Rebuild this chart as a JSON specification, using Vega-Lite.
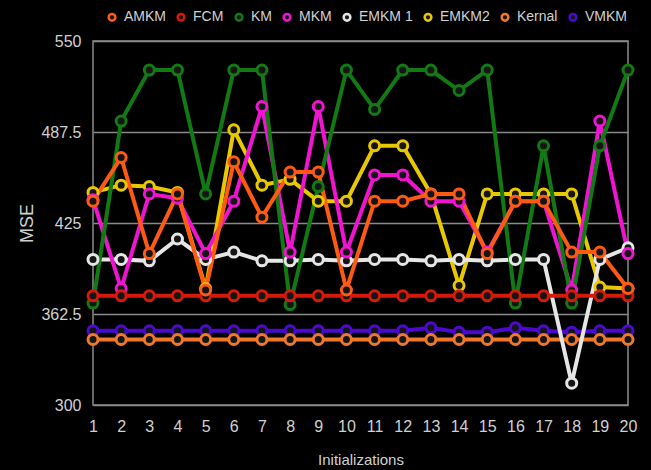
{
  "$schema": "https://vega.github.io/schema/vega-lite/v6.json",
  "width": 535,
  "height": 364,
  "autosize": {"type": "none"},
  "padding": {"left": 93, "top": 41, "right": 23, "bottom": 65},
  "background": "#000000",
  "config": {
    "view": {"stroke": "#8a8a8a", "strokeWidth": 1.5, "fill": "#000000"},
    "font": "Liberation Sans"
  },
  "data": {
    "values": [
      {"x": 1, "AMKM": 440, "FCM": 375, "KM": 370, "MKM": 441, "EMKM 1": 400, "EMKM2": 446, "Kernal": 345, "VMKM": 351},
      {"x": 2, "AMKM": 470, "FCM": 375, "KM": 495, "MKM": 380, "EMKM 1": 400, "EMKM2": 451, "Kernal": 345, "VMKM": 351},
      {"x": 3, "AMKM": 404, "FCM": 375, "KM": 530, "MKM": 445, "EMKM 1": 399, "EMKM2": 450, "Kernal": 345, "VMKM": 351},
      {"x": 4, "AMKM": 445, "FCM": 375, "KM": 530, "MKM": 442, "EMKM 1": 414, "EMKM2": 446, "Kernal": 345, "VMKM": 351},
      {"x": 5, "AMKM": 379, "FCM": 375, "KM": 445, "MKM": 404, "EMKM 1": 400, "EMKM2": 380, "Kernal": 345, "VMKM": 351},
      {"x": 6, "AMKM": 467, "FCM": 375, "KM": 530, "MKM": 440, "EMKM 1": 405, "EMKM2": 489, "Kernal": 345, "VMKM": 351},
      {"x": 7, "AMKM": 429, "FCM": 375, "KM": 530, "MKM": 505, "EMKM 1": 399, "EMKM2": 451, "Kernal": 345, "VMKM": 351},
      {"x": 8, "AMKM": 460, "FCM": 375, "KM": 369, "MKM": 405, "EMKM 1": 399, "EMKM2": 455, "Kernal": 345, "VMKM": 351},
      {"x": 9, "AMKM": 460, "FCM": 375, "KM": 450, "MKM": 505, "EMKM 1": 400, "EMKM2": 440, "Kernal": 345, "VMKM": 351},
      {"x": 10, "AMKM": 379, "FCM": 375, "KM": 530, "MKM": 405, "EMKM 1": 399, "EMKM2": 440, "Kernal": 345, "VMKM": 351},
      {"x": 11, "AMKM": 440, "FCM": 375, "KM": 503, "MKM": 458, "EMKM 1": 400, "EMKM2": 478, "Kernal": 345, "VMKM": 351},
      {"x": 12, "AMKM": 440, "FCM": 375, "KM": 530, "MKM": 458, "EMKM 1": 400, "EMKM2": 478, "Kernal": 345, "VMKM": 351},
      {"x": 13, "AMKM": 445, "FCM": 375, "KM": 530, "MKM": 440, "EMKM 1": 399, "EMKM2": 445, "Kernal": 345, "VMKM": 353},
      {"x": 14, "AMKM": 445, "FCM": 375, "KM": 516, "MKM": 440, "EMKM 1": 400, "EMKM2": 382, "Kernal": 345, "VMKM": 350},
      {"x": 15, "AMKM": 404, "FCM": 375, "KM": 530, "MKM": 405, "EMKM 1": 399, "EMKM2": 445, "Kernal": 345, "VMKM": 350},
      {"x": 16, "AMKM": 440, "FCM": 375, "KM": 370, "MKM": 440, "EMKM 1": 400, "EMKM2": 445, "Kernal": 345, "VMKM": 353},
      {"x": 17, "AMKM": 440, "FCM": 375, "KM": 478, "MKM": 440, "EMKM 1": 400, "EMKM2": 445, "Kernal": 345, "VMKM": 351},
      {"x": 18, "AMKM": 405, "FCM": 375, "KM": 370, "MKM": 379, "EMKM 1": 315, "EMKM2": 445, "Kernal": 345, "VMKM": 350},
      {"x": 19, "AMKM": 405, "FCM": 375, "KM": 478, "MKM": 495, "EMKM 1": 400, "EMKM2": 381, "Kernal": 345, "VMKM": 351},
      {"x": 20, "AMKM": 380, "FCM": 375, "KM": 530, "MKM": 404, "EMKM 1": 408, "EMKM2": 380, "Kernal": 345, "VMKM": 351}
    ]
  },
  "transform": [
    {"fold": ["VMKM", "Kernal", "EMKM2", "EMKM 1", "MKM", "KM", "FCM", "AMKM"], "as": ["series", "mse"]}
  ],
  "encoding": {
    "x": {
      "field": "x",
      "type": "quantitative",
      "scale": {"domain": [1, 20], "nice": false, "zero": false},
      "axis": {
        "values": [1, 2, 3, 4, 5, 6, 7, 8, 9, 10, 11, 12, 13, 14, 15, 16, 17, 18, 19, 20],
        "format": "d",
        "labelFlush": false,
        "labelOverlap": false,
        "grid": false,
        "domain": false,
        "ticks": false,
        "labelColor": "#d0d0d0",
        "labelFontSize": 16,
        "labelPadding": 13,
        "title": "Initializations",
        "titleColor": "#d0d0d0",
        "titleFontSize": 15,
        "titleFontWeight": "normal",
        "titlePadding": 18
      }
    },
    "y": {
      "field": "mse",
      "type": "quantitative",
      "scale": {"domain": [300, 550], "nice": false, "zero": false},
      "axis": {
        "values": [300, 362.5, 425, 487.5, 550],
        "labelExpr": "toString(datum.value)",
        "labelFlush": false,
        "grid": true,
        "gridColor": "#8a8a8a",
        "gridWidth": 1.5,
        "domain": false,
        "ticks": false,
        "labelColor": "#d0d0d0",
        "labelFontSize": 16,
        "labelPadding": 12,
        "title": "MSE",
        "titleColor": "#d0d0d0",
        "titleFontSize": 18,
        "titleFontWeight": "normal",
        "titlePadding": 4
      }
    },
    "color": {
      "field": "series",
      "type": "nominal",
      "scale": {
        "domain": ["AMKM", "FCM", "KM", "MKM", "EMKM 1", "EMKM2", "Kernal", "VMKM"],
        "range": ["#ff5a12", "#d41a0a", "#127a12", "#f014d2", "#e6e6e6", "#e8c800", "#f07828", "#4a0ad0"]
      },
      "legend": {
        "orient": "none",
        "legendX": 12,
        "legendY": -31,
        "direction": "horizontal",
        "title": null,
        "padding": 0,
        "columnPadding": 6,
        "labelFontSize": 14,
        "labelColor": "#d0d0d0",
        "labelOffset": 5,
        "symbolType": "circle",
        "symbolSize": 45,
        "symbolStrokeWidth": 2.5,
        "symbolFillColor": "#000000"
      }
    }
  },
  "layer": [
    {"mark": {"type": "line", "strokeWidth": 4}},
    {"mark": {"type": "point", "filled": false, "fill": "#151515", "size": 100, "strokeWidth": 3, "opacity": 1}}
  ]
}
